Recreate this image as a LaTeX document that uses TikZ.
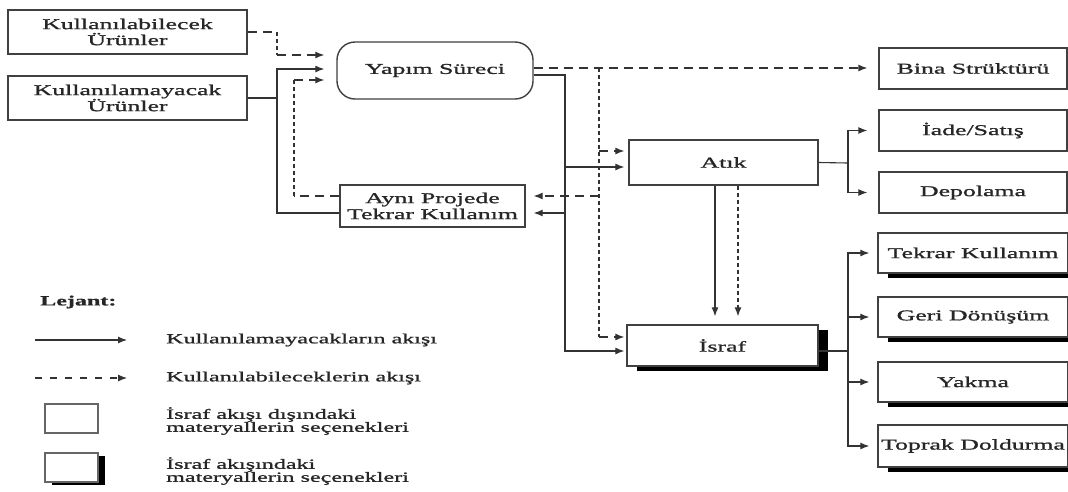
\documentclass[tikz,border=0pt]{standalone}
\usepackage{fontspec}
\setmainfont{Liberation Serif}[FakeStretch=1.72, FakeBold=1.2]
\usetikzlibrary{arrows.meta,shadows}
\newcommand{\dfont}{\fontsize{15}{16}\selectfont}
\newcommand{\lfont}{\fontsize{14}{13}\selectfont}
\tikzset{
  box/.style={draw=black!75, line width=1.4pt, fill=white, font=\dfont, align=center, inner sep=1pt, text=black!85},
  sbox/.style={box, drop shadow={shadow xshift=10pt, shadow yshift=-5pt, fill=black, opacity=1}},
  ln/.style={draw=black!80, line width=1.1pt},
  tip/.style={-{Latex[length=9pt,width=7pt]}},
  hdash/.style={ln, dash pattern=on 9pt off 6pt},
  vdash/.style={ln, dash pattern=on 4pt off 3pt},
  legtxt/.style={font=\lfont, align=left, inner sep=0pt, text=black!85, anchor=west},
}
\begin{document}
\begin{tikzpicture}[x=1pt,y=-1pt]
\clip (0,0) rectangle (1068,491);
\fill[white] (0,0) rectangle (1068,491);
% nodes
\node[box, minimum width=239pt, minimum height=44pt] (kb) at (127.5,32) {Kullanılabilecek\\Ürünler};
\node[box, minimum width=239pt, minimum height=44pt] (km) at (127.5,98) {Kullanılamayacak\\Ürünler};
\node[box, rounded corners=18pt, minimum width=196pt, minimum height=57pt] (yap) at (435,70.5) {Yapım Süreci};
\node[box, minimum width=185pt, minimum height=42pt] (ayni) at (432.5,206) {Aynı Projede\\Tekrar Kullanım};
\node[box, minimum width=189pt, minimum height=45pt] (atik) at (723.5,162.5) {Atık};
\node[sbox, minimum width=191pt, minimum height=41pt] (israf) at (722.5,345.5) {İsraf};
\node[box, minimum width=188pt, minimum height=41pt] (bina) at (973,68.5) {Bina Strüktürü};
\node[box, minimum width=188pt, minimum height=41pt] (iade) at (973,130.5) {İade/Satış};
\node[box, minimum width=188pt, minimum height=41pt] (depo) at (973,192.5) {Depolama};
\node[sbox, minimum width=190pt, minimum height=40pt] (tk) at (973,253) {Tekrar Kullanım};
\node[sbox, minimum width=190pt, minimum height=40pt] (gd) at (973,317) {Geri Dönüşüm};
\node[sbox, minimum width=190pt, minimum height=40pt] (yk) at (973,382) {Yakma};
\node[sbox, minimum width=190pt, minimum height=42pt] (td) at (973,446) {Toprak Doldurma};
% solid connectors
\draw[ln, tip, shorten >=12pt] (km.east) -- (277,98) -- (277,69) -- (yap.west |- 0,69);
\draw[ln] (ayni.west |- 0,213) -- (277,213) -- (277,98);
\draw[ln, tip, shorten >=2pt] (yap.east |- 0,75) -- (565,75) -- (565,351) -- (israf.west |- 0,351);
\draw[ln, tip, shorten >=4pt] (565,167) -- (atik.west |- 0,167);
\draw[ln, tip, shorten >=8pt] (565,213) -- (ayni.east |- 0,213);
\draw[ln, tip, shorten >=8pt] (atik.south -| 715,0) -- (israf.north -| 715,0);
\draw[ln] (atik.east) -- (848,163);
\draw[ln, tip, shorten >=11pt] (848,163) |- (iade.west);
\draw[ln, tip, shorten >=11pt] (848,163) |- (depo.west);
\draw[ln] (israf.east |- 0,351) -- (848,351);
\draw[ln, tip, shorten >=8pt] (848,351) |- (tk.west);
\draw[ln, tip, shorten >=8pt] (848,351) |- (gd.west);
\draw[ln, tip, shorten >=8pt] (848,351) |- (yk.west);
\draw[ln, tip, shorten >=8pt] (848,351) |- (td.west);
% dashed connectors
\draw[hdash] (kb.east) -- (277,32);
\draw[vdash] (277,32) -- (277,55);
\draw[hdash, tip, shorten >=12pt] (277,55) -- (yap.west |- 0,55);
\draw[hdash] (ayni.west |- 0,196) -- (294,196);
\draw[vdash] (294,196) -- (294,80);
\draw[hdash, tip, shorten >=12pt] (294,80) -- (yap.west |- 0,80);
\draw[hdash, tip, shorten >=11pt] (yap.east |- 0,68) -- (bina.west |- 0,68);
\draw[vdash] (599,68) -- (599,337);
\draw[hdash, tip, shorten >=4pt] (599,151) -- (atik.west |- 0,151);
\draw[hdash, tip, shorten >=8pt] (599,196) -- (ayni.east |- 0,196);
\draw[hdash, tip, shorten >=2pt] (599,337) -- (israf.west |- 0,337);
\draw[vdash, tip, shorten >=8pt] (atik.south -| 738,0) -- (israf.north -| 738,0);
% legend
\node[legtxt, font=\lfont\bfseries] (lej) at (40,302) {Lejant:};
\coordinate (l1a) at (35,340);
\coordinate (l1b) at (127,340);
\draw[ln, tip] (l1a) -- (l1b);
\node[legtxt] (t1) at (166,340) {Kullanılamayacakların akışı};
\coordinate (l2a) at (35,378);
\coordinate (l2b) at (127,378);
\draw[ln, tip, dash pattern=on 7pt off 8pt] (l2a) -- (l2b);
\node[legtxt] (t2) at (166,378) {Kullanılabileceklerin akışı};
\node[draw=black!60, line width=1.2pt, fill=white, minimum width=53pt, minimum height=29pt] (lb1) at (71.5,418.5) {};
\node[legtxt] (t3) at (166,421) {İsraf akışı dışındaki\\materyallerin seçenekleri};
\node[draw=black!60, line width=1.2pt, fill=white, minimum width=53pt, minimum height=29pt,
      drop shadow={shadow xshift=7pt, shadow yshift=-3pt, fill=black, opacity=1}] (lb2) at (71.5,467.5) {};
\node[legtxt] (t4) at (166,471) {İsraf akışındaki\\materyallerin seçenekleri};
\end{tikzpicture}
\end{document}
